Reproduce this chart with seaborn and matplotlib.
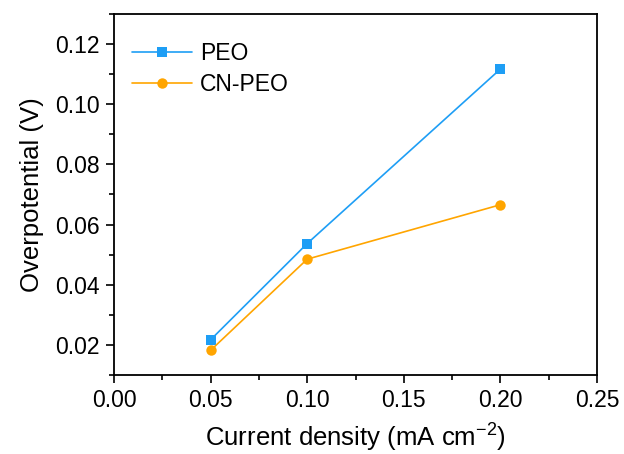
import matplotlib
matplotlib.use("Agg")
import matplotlib.pyplot as plt
import seaborn as sns
import pandas as pd
from matplotlib.ticker import MultipleLocator

current = [0.05, 0.10, 0.20]
peo = [0.0217, 0.0537, 0.1117]
cn_peo = [0.0182, 0.0485, 0.0666]
series_names = ["PEO", "CN-PEO"]

df = pd.DataFrame({
    "x": current * 2,
    "y": peo + cn_peo,
    "s": [series_names[0]] * 3 + [series_names[1]] * 3,
})

sns.set_style("ticks")
plt.rcParams['font.family'] = ['Liberation Sans', 'DejaVu Sans']
plt.rcParams['mathtext.fontset'] = 'custom'
plt.rcParams['mathtext.rm'] = 'Liberation Sans'
plt.rcParams['mathtext.it'] = 'Liberation Sans'
for k in ['text.color', 'axes.labelcolor', 'xtick.color', 'ytick.color', 'axes.edgecolor']:
    plt.rcParams[k] = 'black'

fig = plt.figure(figsize=(6.24, 4.54), dpi=100)
ax = fig.add_axes([114/624, 1 - 375/454, (597-114)/624, (375-14)/454])

sns.lineplot(data=df, x="x", y="y", hue="s", style="s",
             palette={"PEO": "#1E9EF5", "CN-PEO": "#FFA500"},
             markers={"PEO": "s", "CN-PEO": "o"}, dashes=False,
             markersize=7.5, linewidth=1.2, markeredgewidth=0, ax=ax)

ax.set_xlim(0, 0.25)
ax.set_ylim(0.01, 0.13)
ax.xaxis.set_minor_locator(MultipleLocator(0.025))
ax.yaxis.set_minor_locator(MultipleLocator(0.01))
ax.set_yticks([0.02, 0.04, 0.06, 0.08, 0.10, 0.12])
ax.set_xticks([0, 0.05, 0.10, 0.15, 0.20, 0.25])
ax.set_xticklabels(["0.00", "0.05", "0.10", "0.15", "0.20", "0.25"])
ax.set_yticklabels(["0.02", "0.04", "0.06", "0.08", "0.10", "0.12"])
ax.tick_params(axis="both", which="major", direction="out", length=6, width=1.2,
               labelsize=16.5, colors="black", pad=4)
ax.tick_params(axis="both", which="minor", direction="out", length=3.5, width=1.2,
               colors="black")
for sp in ax.spines.values():
    sp.set_linewidth(1.3)
    sp.set_color("black")

ax.set_xlabel("Current density (mA cm$^{\\mathrm{-2}}$)", fontsize=18.5, labelpad=7,
              color="black")
ax.set_ylabel("Overpotential (V)", fontsize=18.5, labelpad=8, color="black")

leg = ax.legend(loc="upper left", bbox_to_anchor=(-0.01, 0.985), frameon=False,
                fontsize=16.5, handlelength=2.6,
                borderaxespad=0.6, labelspacing=0.35, handletextpad=0.35)
leg.set_title(None)
for t in leg.get_texts():
    t.set_color("black")

fig.savefig("out.png", dpi=100)
